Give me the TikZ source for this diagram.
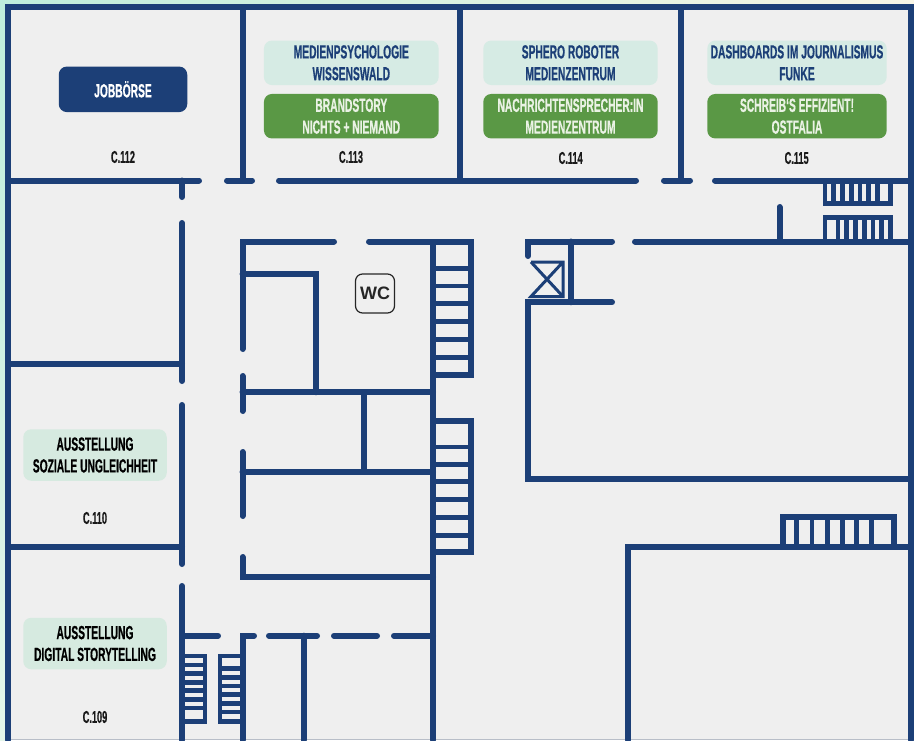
\documentclass[tikz,border=0pt]{standalone}
\usepackage{fontspec}
\usetikzlibrary{positioning}
\setmainfont{Liberation Sans}
\newfontfamily\boardfont[FakeStretch=0.54,FakeBold=0.5]{Liberation Sans Bold}

\definecolor{navy}{HTML}{1C3F77}
\definecolor{floor}{HTML}{EFEFEF}
\definecolor{palemint}{HTML}{D6EBE4}
\definecolor{paleroom}{HTML}{D6EAE0}
\definecolor{leaf}{HTML}{5A9845}
\definecolor{leaftext}{HTML}{EAF2E4}
\definecolor{mint}{HTML}{BEEEDC}
\definecolor{cream}{HTML}{F8F6E6}
\definecolor{lightmint}{HTML}{E4F6EA}
\definecolor{floorline}{HTML}{B8BEC8}

\begin{document}
\begin{tikzpicture}[x=1pt,y=-1pt]

\tikzstyle{wall} = [draw=navy, line width=6pt, line cap=round, miter limit=10]
\tikzstyle{stair} = [draw=navy, line width=4.5pt]
\tikzstyle{lift} = [draw=navy, line width=3pt]
\tikzstyle{board} = [rectangle, rounded corners=8pt, inner sep=0pt, align=center,
    font=\boardfont\fontsize{19}{21.8}\selectfont]
\tikzstyle{talk} = [board, fill=palemint, text=navy, minimum height=44.5pt]
\tikzstyle{workshop} = [board, fill=leaf, text=leaftext, minimum height=44.5pt, below=8.5pt of #1]
\tikzstyle{show} = [board, fill=paleroom, text=black, minimum width=143.5pt, minimum height=51.5pt]
\tikzstyle{roomno} = [inner sep=0pt, text=black!90, font=\boardfont\fontsize{17}{17}\selectfont]

\useasboundingbox (0,0) rectangle (914,740);

% backdrop
\fill [left color=mint, right color=cream] (0,0) rectangle (914,5);
\fill [top color=mint, bottom color=lightmint] (0,0) rectangle (5,740);
\fill [floor] (5,4) rectangle (914,739);
\fill [floorline] (5,739) rectangle (914,740);

% outer walls and the rooms along the top
\path [wall] (8,740) -- (8,7) -- (911,7) -- (911,740);
\path [wall] (242.5,7) -- (242.5,180.5);
\path [wall] (460,7) -- (460,180.5);
\path [wall] (681,7) -- (681,180.5);
\path [wall] (8,180.5) -- (199,180.5);
\path [wall] (227,180.5) -- (252,180.5);
\path [wall] (279,180.5) -- (636,180.5);
\path [wall] (664,180.5) -- (690,180.5);
\path [wall] (715,180.5) -- (911,180.5);

% rooms on the left
\path [wall] (182,180.5) -- (182,197);
\path [wall] (182,223) -- (182,381);
\path [wall] (182,405) -- (182,564);
\path [wall] (182,586) -- (182,740);
\path [wall] (8,363.5) -- (182,363.5);
\path [wall] (8,546.5) -- (182,546.5);

% core
\path [wall] (334,241.5) -- (242.5,241.5) -- (242.5,349);
\path [wall] (369,241.5) -- (433,241.5) -- (433,740);
\path [wall] (242.5,376) -- (242.5,411);
\path [wall] (242.5,452) -- (242.5,516);
\path [wall] (242.5,557) -- (242.5,576.5) -- (433,576.5);
\path [wall] (242.5,274) -- (316,274) -- (316,392.3);
\path [wall] (242.5,392.3) -- (433,392.3);
\path [wall] (364,392.3) -- (364,471.7);
\path [wall] (242.5,471.7) -- (433,471.7);

% bottom row
\path [wall] (182,635.7) -- (218,635.7);
\path [wall] (254,635.7) -- (242.5,635.7) -- (242.5,740);
\path [wall] (269,635.7) -- (317,635.7);
\path [wall] (334,635.7) -- (377,635.7);
\path [wall] (394,635.7) -- (433,635.7);
\path [wall] (303.5,635.7) -- (303.5,740);

% right block
\path [wall] (612,241.5) -- (528,241.5) -- (528,256);
\path [wall] (571,241.5) -- (571,302.3);
\path [wall] (612,302.3) -- (528,302.3) -- (528,479) -- (911,479);
\path [wall] (635,241.5) -- (911,241.5);
\path [wall] (779.5,207) -- (779.5,241.5);
\path [wall] (628.3,740) -- (628.3,547) -- (911,547);

% stairs
\path [wall, line cap=butt] (433,241.5) -- (471,241.5) -- (471,374.7) -- (433,374.7);
\path [stair] (433,268.3) -- (471,268.3) (433,286) -- (471,286) (433,303.5) -- (471,303.5)
    (433,321.3) -- (471,321.3) (433,339.5) -- (471,339.5) (433,357.7) -- (471,357.7);
\path [wall, line cap=butt] (433,420.7) -- (471,420.7) -- (471,551.7) -- (433,551.7);
\path [stair] (433,447) -- (471,447) (433,464.3) -- (471,464.3) (433,481.7) -- (471,481.7)
    (433,499.3) -- (471,499.3) (433,517.3) -- (471,517.3) (433,535.3) -- (471,535.3);
\path [stair] (182,656) -- (205,656) -- (205,721.7) -- (182,721.7);
\path [stair] (182,665) -- (205,665) (182,673.3) -- (205,673.3) (182,682.3) -- (205,682.3)
    (182,690.7) -- (205,690.7) (182,699.3) -- (205,699.3) (182,708) -- (205,708);
\path [stair] (242,656) -- (220,656) -- (220,721.7) -- (242,721.7);
\path [stair] (220,668.7) -- (242,668.7) (220,677.3) -- (242,677.3) (220,686) -- (242,686)
    (220,694.3) -- (242,694.3) (220,703.3) -- (242,703.3) (220,712) -- (242,712);
\path [stair] (825,180.5) -- (825,203.3) -- (890.7,203.3) -- (890.7,180.5);
\path [stair] (833.7,180.5) -- (833.7,203.3) (842.3,180.5) -- (842.3,203.3) (851.3,180.5) -- (851.3,203.3)
    (860,180.5) -- (860,203.3) (868.7,180.5) -- (868.7,203.3) (877.3,180.5) -- (877.3,203.3);
\path [stair] (825,241.5) -- (825,217.7) -- (890.7,217.7) -- (890.7,241.5);
\path [stair] (838,217.7) -- (838,241.5) (846.7,217.7) -- (846.7,241.5) (855.7,217.7) -- (855.7,241.5)
    (864.3,217.7) -- (864.3,241.5) (873,217.7) -- (873,241.5) (881.7,217.7) -- (881.7,241.5);
\path [wall, line cap=butt] (782.5,547) -- (782.5,517.3) -- (893.7,517.3) -- (893.7,547);
\path [stair] (796.7,517.3) -- (796.7,547) (812,517.3) -- (812,547) (827.3,517.3) -- (827.3,547)
    (842.3,517.3) -- (842.3,547) (856.7,517.3) -- (856.7,547) (871.7,517.3) -- (871.7,547);

% lift
\path [lift] (531,262) -- (563,262) -- (563,296.5) -- (531,296.5) -- (563,262);
\path [lift] (531,262) -- (563,296.5);

% boards
\node [board, fill=navy, text=white, minimum width=128.5pt, minimum height=45.5pt] (jobs) at (123,89.3) {JOBBÖRSE};

\node [talk, minimum width=174.7pt] (psych) at (351.3,62.8) {MEDIENPSYCHOLOGIE\\WISSENSWALD};
\node [workshop=psych, minimum width=174.7pt] (brand) {BRANDSTORY\\NICHTS + NIEMAND};
\node [talk, minimum width=174.4pt] (sphero) at (570.5,62.8) {SPHERO ROBOTER\\MEDIENZENTRUM};
\node [workshop=sphero, minimum width=174.4pt] (speaker) {NACHRICHTENSPRECHER:IN\\MEDIENZENTRUM};
\node [talk, minimum width=179.4pt] (dash) at (797,62.8) {DASHBOARDS IM JOURNALISMUS\\FUNKE};
\node [workshop=dash, minimum width=179.4pt] (write) {SCHREIB‘S EFFIZIENT!\\OSTFALIA};

\node [show] (social) at (95,455) {AUSSTELLUNG\\SOZIALE UNGLEICHHEIT};
\node [show] (digital) at (95,643.5) {AUSSTELLUNG\\DIGITAL STORYTELLING};

\node [roomno] (c112) at (123,157) {C.112};
\node [roomno] (c113) at (351,157) {C.113};
\node [roomno] (c114) at (570.7,158) {C.114};
\node [roomno] (c115) at (796.7,158) {C.115};
\node [roomno] (c110) at (95,518) {C.110};
\node [roomno] (c109) at (95,717) {C.109};

\node [draw=black!85, line width=1.2pt, fill=floor, rounded corners=7pt, minimum size=39pt, inner sep=0pt,
    text=black!85, font=\bfseries\fontsize{18}{18}\selectfont] (wc) at (375,293.5) {WC};

\end{tikzpicture}
\end{document}
